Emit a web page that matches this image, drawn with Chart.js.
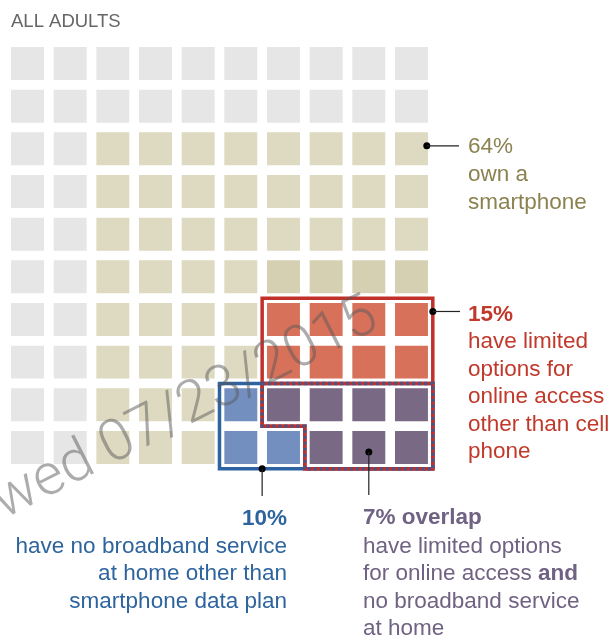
<!DOCTYPE html>
<html>
<head>
<meta charset="utf-8">
<script src="https://cdn.jsdelivr.net/npm/chart.js@4/dist/chart.umd.min.js"></script>
<style>
  html, body { margin: 0; padding: 0; background: #fff; overflow: hidden; }
  canvas { display: block; }
</style>
</head>
<body>
<canvas id="waffleChart" width="613" height="636"></canvas>
<script>
// one letter per cell, 10 x 10 = 100 adults
// G no smartphone, T smartphone, D smartphone (shaded), R limited options only,
// B no broadband only, P both (overlap)
const gridRows = [
  'GGGGGGGGGG',
  'GGGGGGGGGG',
  'GGTTTTTTTT',
  'GGTTTTTTTT',
  'GGTTTTTTTT',
  'GGTTTTDDDD',
  'GGTTTTRRRR',
  'GGTTTTRRRR',
  'GGTTTBPPPP',
  'GGTTTBBPPP'
];
const categoryCodes = ['G', 'T', 'D', 'R', 'B', 'P'];
const categoryNames = ['No smartphone', 'Smartphone', 'Smartphone', 'Limited options', 'No broadband', 'Overlap'];

const ownShare = 64;
const limitedShare = 15;
const broadbandShare = 10;
const overlapShare = 7;

const ownText = ['own a', 'smartphone'];
const limitedText = ['have limited', 'options for', 'online access', 'other than cell', 'phone'];
const broadbandText = ['have no broadband service', 'at home other than', 'smartphone data plan'];
const overlapText = [
  [['have limited options', false]],
  [['for online access ', false], ['and', true]],
  [['no broadband service', false]],
  [['at home', false]]
];

const colors = {
  G: '#e6e6e6',
  T: '#dddac1',
  D: '#d6d0b3',
  R: '#d8715a',
  B: '#728fbf',
  P: '#7a6985'
};
const FONT = "'Liberation Sans', Arial, sans-serif";
const SIZE = '22.5px ';

const datasets = categoryCodes.map((code, i) => {
  const points = [];
  gridRows.forEach((row, r) => {
    row.split('').forEach((c, col) => {
      if (c === code) points.push({ x: col, y: r });
    });
  });
  return {
    label: categoryNames[i],
    data: points,
    backgroundColor: colors[code],
    pointStyle: 'rect',
    pointRadius: 23.3,
    pointHoverRadius: 23.3,
    borderWidth: 0
  };
});

function outline(ctx, xs, ys, path) {
  ctx.beginPath();
  path.forEach((p, i) => {
    const px = xs.getPixelForValue(p[0]);
    const py = ys.getPixelForValue(p[1]);
    if (i === 0) ctx.moveTo(px, py); else ctx.lineTo(px, py);
  });
  ctx.closePath();
  ctx.stroke();
}

function textLines(ctx, lines, x, y, step) {
  lines.forEach((t, i) => ctx.fillText(t, x, y + i * step));
}

function dot(ctx, x, y) {
  ctx.beginPath();
  ctx.arc(x, y, 3.5, 0, Math.PI * 2);
  ctx.fill();
}

function line(ctx, x1, y1, x2, y2) {
  ctx.beginPath();
  ctx.moveTo(x1, y1);
  ctx.lineTo(x2, y2);
  ctx.stroke();
}

const annotations = {
  id: 'annotations',
  afterDatasetsDraw(chart) {
    const ctx = chart.ctx;
    const xs = chart.scales.x;
    const ys = chart.scales.y;
    const redPath = [[5.5, 5.5], [9.5, 5.5], [9.5, 9.5], [6.5, 9.5], [6.5, 8.5], [5.5, 8.5]];
    const bluePath = [[4.5, 7.5], [9.5, 7.5], [9.5, 9.5], [4.5, 9.5]];
    const overlapPath = [[5.5, 7.5], [9.5, 7.5], [9.5, 9.5], [6.5, 9.5], [6.5, 8.5], [5.5, 8.5]];

    ctx.save();
    ctx.lineWidth = 3.5;
    ctx.lineJoin = 'miter';
    ctx.strokeStyle = '#c1302b';
    outline(ctx, xs, ys, redPath);
    ctx.strokeStyle = '#2d63a0';
    outline(ctx, xs, ys, bluePath);
    ctx.strokeStyle = '#c1302b';
    outline(ctx, xs, ys, overlapPath);
    ctx.setLineDash([3, 3]);
    ctx.strokeStyle = '#4b5484';
    outline(ctx, xs, ys, overlapPath);
    ctx.setLineDash([]);

    // pointers
    ctx.fillStyle = '#000';
    ctx.strokeStyle = '#222';
    ctx.lineWidth = 1.2;
    const x9 = xs.getPixelForValue(9.5);
    const ownY = ys.getPixelForValue(2) - 3;
    dot(ctx, x9 - 6, ownY);
    line(ctx, x9 - 6, ownY, 459, ownY);
    const limY = ys.getPixelForValue(6) - 8;
    dot(ctx, x9, limY);
    line(ctx, x9, limY, 460, limY);
    const bbX = xs.getPixelForValue(5.5);
    const bbY = ys.getPixelForValue(9.5);
    dot(ctx, bbX, bbY);
    line(ctx, bbX, bbY, bbX, 496);
    const ovX = xs.getPixelForValue(8);
    const ovY = ys.getPixelForValue(9) + 4.5;
    dot(ctx, ovX, ovY);
    line(ctx, ovX, ovY, ovX, 495);

    // title
    ctx.textBaseline = 'alphabetic';
    ctx.textAlign = 'left';
    ctx.fillStyle = '#666666';
    ctx.font = '18.5px ' + FONT;
    ctx.fillText('ALL ADULTS', 11, 27);

    // 64%
    ctx.fillStyle = '#8b8250';
    ctx.font = SIZE + FONT;
    ctx.fillText(ownShare + '%', 468, 153);
    textLines(ctx, ownText, 468, 181, 27.5);

    // 15%
    ctx.fillStyle = '#c0392b';
    ctx.font = 'bold ' + SIZE + FONT;
    ctx.fillText(limitedShare + '%', 468, 321);
    ctx.font = SIZE + FONT;
    textLines(ctx, limitedText, 468, 348, 27.5);

    // 10%
    ctx.textAlign = 'right';
    ctx.fillStyle = '#2e649e';
    ctx.font = 'bold ' + SIZE + FONT;
    ctx.fillText(broadbandShare + '%', 287, 525);
    ctx.font = SIZE + FONT;
    textLines(ctx, broadbandText, 287, 552.5, 27.5);

    // 7% overlap
    ctx.textAlign = 'left';
    ctx.fillStyle = '#6f6282';
    ctx.font = 'bold ' + SIZE + FONT;
    ctx.fillText(overlapShare + '% overlap', 363, 524);
    overlapText.forEach((segs, i) => {
      let x = 363;
      segs.forEach(([t, bold]) => {
        ctx.font = (bold ? 'bold ' : '') + SIZE + FONT;
        ctx.fillText(t, x, 552.5 + i * 27.5);
        x += ctx.measureText(t).width;
      });
    });

    // watermark
    ctx.translate(381, 327);
    ctx.rotate(-27 * Math.PI / 180);
    ctx.textAlign = 'right';
    ctx.fillStyle = 'rgba(90, 90, 90, 0.5)';
    ctx.font = '300 58px Roboto, ' + FONT;
    ctx.fillText('Viewed 07/23/2015', 0, 0);
    ctx.restore();
  }
};

const ctx = document.getElementById('waffleChart').getContext('2d');

const waffleChart = new Chart(ctx, {
  type: 'scatter',
  data: { datasets: datasets },
  options: {
    responsive: false,
    animation: false,
    events: [],
    layout: {
      autoPadding: false,
      padding: { left: 6.17, top: 42.17, right: 180.2, bottom: 167.2 }
    },
    plugins: {
      legend: { display: false },
      tooltip: { enabled: false }
    },
    scales: {
      x: { type: 'linear', min: -0.5, max: 9.5, display: false },
      y: { type: 'linear', min: -0.5, max: 9.5, reverse: true, display: false }
    }
  },
  plugins: [annotations]
});
</script>
</body>
</html>
